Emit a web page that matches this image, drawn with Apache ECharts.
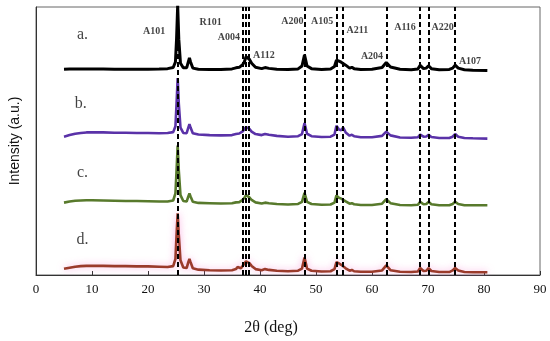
<!DOCTYPE html>
<html><head><meta charset="utf-8">
<script src="https://cdn.jsdelivr.net/npm/echarts@6/dist/echarts.min.js"></script>
<style>html,body{margin:0;padding:0;background:#fff}#c{width:550px;height:341px}</style>
</head><body><div id="c"></div>
<script>
const twoTheta = [5.0,6.0,7.0,8.0,9.0,10.0,12.0,14.0,16.0,18.0,20.0,22.0,23.5,24.5,24.9,25.1,25.3,25.5,25.8,26.3,26.9,27.2,27.4,27.6,28.0,29.0,31.0,33.0,35.0,35.7,36.0,36.3,36.6,36.9,37.2,37.5,37.8,38.1,38.5,39.2,40.3,40.9,41.2,41.6,43.0,45.0,46.8,47.5,47.95,48.4,49.2,51.0,52.6,53.3,53.65,54.1,54.5,54.85,55.3,56.0,56.4,56.8,58.0,60.0,61.8,62.55,63.3,65.0,67.0,68.2,68.6,69.2,69.7,70.1,70.6,72.0,73.8,74.4,74.85,75.4,76.5,78.0,80.6];
const sampleA = [76.8,76.9,76.9,76.9,76.9,76.9, 76.9,76.8,76.8,76.8,76.8,76.9, 77.0,77.4,79.5,88,100.5,88,79.0,77.3, 77.3,79.5,81.0,79.5,77.2,76.8, 76.7,76.7,76.9,77.3,78.0,77.5,77.6,78.5, 79.5,81.5,82.2,80.5,79.0,77.5, 77.0,77.4,77.7,77.1,76.8,76.7, 76.9,78.0,82.2,78.0,77.0,76.7, 76.9,77.8,80.2,79.8,79.4,80.0, 78.3,77.2,77.5,77.0,76.7,76.8, 77.4,79.3,77.6,76.8,76.6,76.9, 78.2,77.0,77.2,78.1,77.0,76.6, 76.7,77.2,78.3,77.2,76.6,76.4,76.3];
const sampleB = [51.6,52.2,52.7,53.0,53.2,53.2, 53.2,53.1,53.1,53.0,53.0,52.9, 53.0,53.3,55.5,64.0,73.5,64.0,55.0,53.0, 52.9,55.0,56.3,55.0,52.9,52.4, 52.2,52.1,52.2,52.6,53.2,52.8,52.9,53.6, 54.3,55.2,55.4,54.5,53.5,52.6, 52.2,52.6,53.0,52.3,51.9,51.6, 51.8,52.6,56.7,52.7,51.8,51.5, 51.6,52.4,55.7,54.3,54.0,55.0, 53.2,52.0,52.3,51.8,51.4,51.4, 51.9,53.5,52.1,51.3,51.2,51.4, 52.4,51.6,51.7,52.3,51.5,51.1, 51.1,51.6,52.6,51.6,51.1,51.0,50.9];
const sampleC = [27.0,27.4,27.7,27.8,27.9,27.9, 27.8,27.7,27.6,27.6,27.5,27.4, 27.4,27.8,30.5,39.0,48.3,39.0,29.8,27.6, 27.4,29.3,30.4,29.3,27.3,26.9, 26.8,26.7,26.8,27.1,27.6,27.2,27.3,28.0, 28.8,29.8,30.0,29.0,28.0,27.1, 26.7,27.0,27.3,26.8,26.5,26.3, 26.5,27.3,30.7,27.3,26.5,26.2, 26.3,27.0,29.7,28.8,28.5,29.1, 27.5,26.6,26.8,26.4,26.1,26.1, 26.6,28.3,26.8,26.1,26.0,26.2, 27.3,26.4,26.5,27.3,26.4,26.0, 26.0,26.5,27.3,26.5,26.0,26.0,26.0];
const sampleD = [2.3,2.7,3.1,3.3,3.4,3.4, 3.4,3.3,3.3,3.2,3.2,3.1, 3.0,3.3,6.0,15.0,23.0,15.0,5.5,2.8, 2.6,4.8,6.0,4.8,2.5,2.0, 1.8,1.7,1.8,2.2,3.0,2.4,2.5,3.4, 4.2,5.1,5.3,4.4,3.4,2.2, 1.8,2.2,2.6,1.9,1.6,1.4, 1.6,2.4,6.5,2.4,1.6,1.3, 1.4,2.2,4.8,4.3,3.8,4.1, 2.5,1.6,1.9,1.4,1.2,1.2, 1.7,3.6,1.8,1.2,1.1,1.3, 2.6,1.5,1.6,2.6,1.5,1.1, 1.1,1.7,2.6,1.7,1.1,1.0,1.0];
const refLines = [25.3,36.9,37.4,37.95,47.95,53.65,54.85,62.55,68.6,70.1,74.85];
const peakNames = ['A101','R101','A004','A112','A200','A105','A211','A204','A116','A220','A107'];
const peakLabelX = [21.1,31.2,34.45,40.7,45.8,51.1,57.4,60.0,65.9,72.6,77.5];
const peakLabelY = [90.8,94.3,88.8,81.9,94.6,94.8,91.2,81.4,92.3,92.3,79.7];
const sampleNames = ['a.','b.','c.','d.'];
const sampleLabelX = [8.3,8.0,8.3,8.3];
const sampleLabelY = [89.6,64.0,38.1,13.0];
const xTicks = {min:0, max:90, interval:10};

function pairs(ys){ return twoTheta.map((x,i)=>[x,ys[i]]); }
const chart = echarts.init(document.getElementById('c'));
const serif = 'Liberation Serif';
chart.setOption({
  animation:false,
  grid:{left:35,right:10,top:7,bottom:64,show:true,borderColor:'#666',borderWidth:1,backgroundColor:'transparent'},
  xAxis:{type:'value',min:xTicks.min,max:xTicks.max,interval:xTicks.interval,
    name:'2θ (deg)',nameLocation:'middle',nameGap:45,
    nameTextStyle:{fontFamily:serif,fontSize:16,color:'#111',padding:[0,34,0,0]},
    axisLine:{lineStyle:{color:'#333',width:1}},
    axisTick:{inside:true,length:4,lineStyle:{color:'#333'}},
    axisLabel:{fontFamily:serif,fontSize:13,color:'#111',margin:8},
    splitLine:{show:false}},
  yAxis:{type:'value',min:0,max:100,
    name:'Intensity (a.u.)',nameLocation:'middle',nameGap:14,
    nameTextStyle:{fontFamily:'Liberation Sans',fontSize:14,color:'#111'},
    axisLine:{show:true,lineStyle:{color:'#333'}},axisTick:{show:false},axisLabel:{show:false},splitLine:{show:false}},
  series:[
    {type:'line',data:pairs(sampleA),symbol:'none',lineStyle:{color:'#000',width:3},z:2},
    {type:'line',data:pairs(sampleB),symbol:'none',lineStyle:{color:'#5a32a8',width:2.6},z:2},
    {type:'line',data:pairs(sampleC),symbol:'none',lineStyle:{color:'#587a2c',width:2.6},z:2},
    {type:'line',data:pairs(sampleD),symbol:'none',lineStyle:{color:'#9a3b2b',width:2.6,shadowColor:'rgba(245,110,200,0.55)',shadowBlur:7},z:2},
    {type:'line',data:[],z:5,silent:true,
      markLine:{silent:true,symbol:['none','none'],label:{show:false},animation:false,
        lineStyle:{color:'#000',type:[5,3],width:2},
        data:refLines.map(v=>({xAxis:v}))}},
    {type:'scatter',symbolSize:0,z:6,silent:true,
      data:peakNames.map((n,i)=>({value:[peakLabelX[i],peakLabelY[i]],name:n})),
      label:{show:true,position:'inside',formatter:p=>p.name,fontFamily:serif,fontSize:10,fontWeight:'bold',color:'#111'}},
    {type:'scatter',symbolSize:0,z:6,silent:true,
      data:sampleNames.map((n,i)=>({value:[sampleLabelX[i],sampleLabelY[i]],name:n})),
      label:{show:true,position:'inside',formatter:p=>p.name,fontFamily:serif,fontSize:16,color:'#111'}}
  ]
});
</script></body></html>
